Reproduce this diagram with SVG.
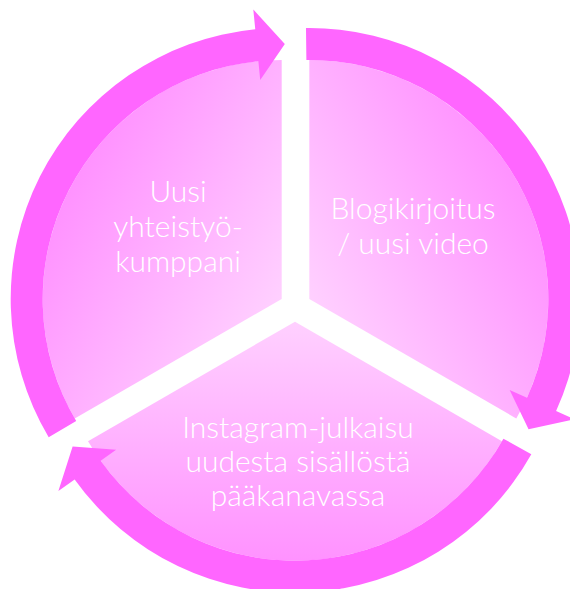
<svg xmlns="http://www.w3.org/2000/svg" width="570" height="589" viewBox="0 0 570 589">
  <defs>
    <linearGradient id="gB" gradientUnits="userSpaceOnUse" x1="0" y1="0" x2="0" y2="239">
      <stop offset="0" stop-color="#ffd0ff"/>
      <stop offset="1" stop-color="#ff92ff"/>
    </linearGradient>
    <linearGradient id="gTL" gradientUnits="userSpaceOnUse" x1="0" y1="0" x2="-207" y2="-119.5">
      <stop offset="0" stop-color="#ffd0ff"/>
      <stop offset="1" stop-color="#ff92ff"/>
    </linearGradient>
    <linearGradient id="gTR" gradientUnits="userSpaceOnUse" x1="0" y1="0" x2="207" y2="-119.5">
      <stop offset="0" stop-color="#ffd0ff"/>
      <stop offset="1" stop-color="#ff92ff"/>
    </linearGradient>
  </defs>
  <style>
    .lbl { font-family: "Lato", "Carlito", "Liberation Sans", Arial, sans-serif; font-weight: 300; font-size: 30px; fill: #ffffff; text-anchor: middle; }
    .ring { fill: #ff66ff; }
  </style>

  <g id="node-blog">
    <path transform="translate(309.3,299)" fill="url(#gTR)" d="M0,0 L0,-239 A239,239 0 0 1 206.98,119.5 Z"/>
    <text class="lbl" x="413" y="219">Blogikirjoitus</text>
    <text class="lbl" x="413" y="253.5">/ uusi video</text>
  </g>

  <g id="node-instagram">
    <path transform="translate(295,321.7)" fill="url(#gB)" d="M0,0 L206.98,119.5 A239,239 0 0 1 -206.98,119.5 Z"/>
    <text class="lbl" x="298" y="437.5">Instagram-julkaisu</text>
    <text class="lbl" x="298" y="471.5">uudesta sisällöstä</text>
    <text class="lbl" x="298" y="506">pääkanavassa</text>
  </g>

  <g id="node-partner">
    <path transform="translate(281.7,299)" fill="url(#gTL)" d="M0,0 L-206.98,119.5 A239,239 0 0 1 0,-239 Z"/>
    <text class="lbl" x="178" y="202">Uusi</text>
    <text class="lbl" x="178" y="237">yhteistyö-</text>
    <text class="lbl" x="178" y="271.5">kumppani</text>
  </g>

  <g id="connectors">
    <path class="ring" transform="translate(281.7,299)" d="M-233.02,138.36 A271,271 0 0 1 -26.45,-269.71 L-28.40,-289.61 L3.12,-254.98 L-21.47,-218.95 L-23.32,-237.86 A239,239 0 0 0 -205.50,122.02 Z"/>
    <path class="ring" transform="translate(309.3,299)" d="M-3.31,-270.98 A271,271 0 0 1 246.80,111.95 L265.02,120.22 L219.26,130.19 L200.36,90.89 L217.66,98.73 A239,239 0 0 0 -2.92,-238.98 Z"/>
    <path class="ring" transform="translate(295,321.7)" d="M236.33,132.62 A271,271 0 0 1 -220.35,157.76 L-236.61,169.40 L-222.38,124.79 L-178.88,128.07 L-194.33,139.13 A239,239 0 0 0 208.42,116.96 Z"/>
  </g>
</svg>
